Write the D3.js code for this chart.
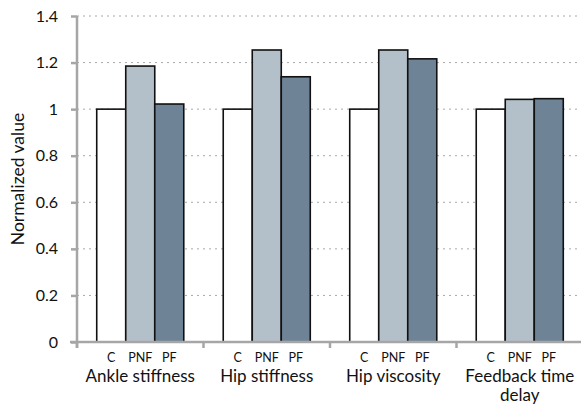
<!DOCTYPE html>
<html>
<head>
<meta charset="utf-8">
<script src="https://cdn.jsdelivr.net/npm/d3@7"></script>
<style>
  body { margin: 0; background: #fff; }
  svg { display: block; font-family: Lato, "Open Sans", sans-serif; }
</style>
</head>
<body>
<div id="chart-area"></div>
<script>
// Data
const groups = ['Ankle stiffness', 'Hip stiffness', 'Hip viscosity', 'Feedback time delay'];
const conditions = ['C', 'PNF', 'PF'];
const valuesC = [1, 1, 1, 1];
const valuesPNF = [1.185, 1.254, 1.254, 1.042];
const valuesPF = [1.022, 1.139, 1.216, 1.045];
const yTicks = [0, 0.2, 0.4, 0.6, 0.8, 1, 1.2, 1.4];

const colors = { C: '#ffffff', PNF: '#b4c0c9', PF: '#6f8397' };

const data = groups.map((g, i) => ({
    group: g,
    C: valuesC[i],
    PNF: valuesPNF[i],
    PF: valuesPF[i]
}));

// Margin
const margin = { left: 77, right: -2, top: 16, bottom: 63 };
const totalW = 581, totalH = 405;
const width = totalW - margin.left - margin.right;
const height = totalH - margin.top - margin.bottom;

const svg = d3.select('#chart-area')
    .append('svg')
    .attr('width', totalW)
    .attr('height', totalH);

const g = svg.append('g')
    .attr('transform', 'translate(' + margin.left + ', ' + margin.top + ')');

// Scales
const x0 = d3.scaleBand().domain(groups).range([0, width]).padding(0);
const x1 = d3.scaleBand().domain(conditions).range([0, x0.bandwidth()])
    .paddingInner(0).paddingOuter(0.68);
const y = d3.scaleLinear().domain([0, 1.4]).range([height, 0]);

// Gridlines
g.append('g')
    .selectAll('line')
    .data(yTicks.filter(d => d > 0))
    .enter()
    .append('line')
    .attr('x1', 0)
    .attr('x2', width)
    .attr('y1', d => y(d))
    .attr('y2', d => y(d))
    .attr('stroke', '#a8a8a8')
    .attr('stroke-width', 1)
    .attr('stroke-dasharray', '2,4');

// Bars
const groupG = g.selectAll('.grp')
    .data(data)
    .enter()
    .append('g')
    .attr('class', 'grp')
    .attr('transform', d => 'translate(' + x0(d.group) + ',0)');

groupG.selectAll('rect')
    .data(d => conditions.map(c => ({ cond: c, value: d[c] })))
    .enter()
    .append('rect')
    .attr('x', d => x1(d.cond))
    .attr('y', d => y(d.value))
    .attr('width', x1.bandwidth())
    .attr('height', d => height - y(d.value))
    .attr('fill', d => colors[d.cond])
    .attr('stroke', '#111')
    .attr('stroke-width', 1.6);

// Condition labels
groupG.selectAll('.cond')
    .data(conditions)
    .enter()
    .append('text')
    .attr('class', 'cond')
    .attr('x', d => x1(d) + x1.bandwidth() / 2)
    .attr('y', height + 20)
    .attr('text-anchor', 'middle')
    .attr('font-size', '12.5px')
    .attr('fill', '#111')
    .text(d => d);

// Group labels
groupG.each(function (d) {
    const words = d.group === 'Feedback time delay' ? ['Feedback time', 'delay'] : [d.group];
    const t = d3.select(this).append('text')
        .attr('x', x0.bandwidth() / 2)
        .attr('y', height + 40)
        .attr('text-anchor', 'middle')
        .attr('font-size', '17px')
        .attr('fill', '#111');
    words.forEach((w, i) => {
        t.append('tspan')
            .attr('x', x0.bandwidth() / 2)
            .attr('dy', i === 0 ? 0 : 19)
            .text(w);
    });
});

// Y Axis
const yAxisCall = d3.axisLeft(y)
    .tickValues(yTicks)
    .tickSize(6)
    .tickPadding(13)
    .tickFormat(d => d3.format('~g')(d));
const yAxisGroup = g.append('g').call(yAxisCall);
yAxisGroup.select('.domain').attr('stroke', '#a6a6a6').attr('stroke-width', 2.5)
    .attr('d', 'M0,' + y(1.4) + 'V' + (height + 6));
yAxisGroup.selectAll('.tick line').attr('stroke', '#a6a6a6').attr('stroke-width', 2.5);
yAxisGroup.selectAll('.tick text')
    .attr('font-size', '16px')
    .attr('fill', '#111')
    .attr('font-family', 'Lato, "Open Sans", sans-serif');

// X Axis
const xAxisGroup = g.append('g').attr('transform', 'translate(0,' + height + ')');
xAxisGroup.append('line')
    .attr('x1', -7).attr('x2', width)
    .attr('stroke', '#a6a6a6').attr('stroke-width', 2.5);
xAxisGroup.selectAll('.xt')
    .data(groups)
    .enter()
    .append('line')
    .attr('class', 'xt')
    .attr('x1', d => x0(d)).attr('x2', d => x0(d))
    .attr('y1', 0).attr('y2', 6)
    .attr('stroke', '#a6a6a6').attr('stroke-width', 2.5);

// Y Label
svg.append('text')
    .attr('transform', 'translate(24,' + 179 + ') rotate(-90)')
    .attr('text-anchor', 'middle')
    .attr('font-size', '17.5px')
    .attr('fill', '#111')
    .text('Normalized value');
</script>
</body>
</html>
